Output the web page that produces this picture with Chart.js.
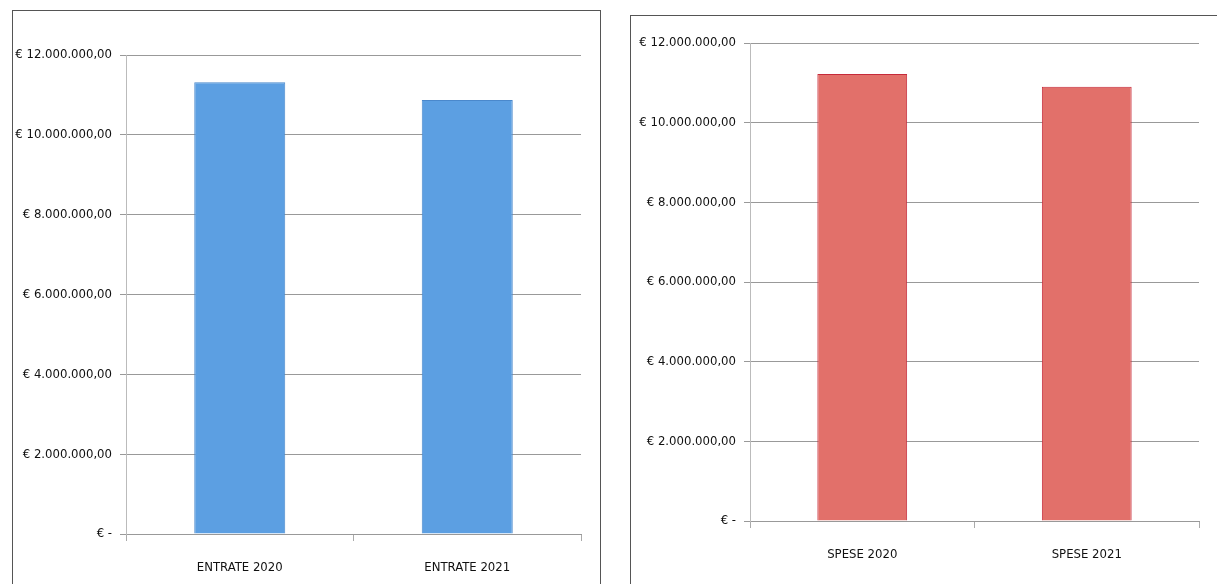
<!DOCTYPE html>
<html>
<head>
<meta charset="utf-8">
<script src="https://cdn.jsdelivr.net/npm/chart.js@4"></script>
<style>
  body { margin: 0; background: #fff; width: 1217px; height: 584px; overflow: hidden; position: relative; }
  .panel { position: absolute; border: 1px solid #555; background: #fff; }
  #p1 { left: 12px; top: 10px; width: 587px; height: 580px; }
  #p2 { left: 630px; top: 15px; width: 590px; height: 580px; }
  canvas { position: absolute; left: 0; top: 0; }
</style>
</head>
<body>
<div class="panel" id="p1"><canvas id="c1" width="587" height="574"></canvas></div>
<div class="panel" id="p2"><canvas id="c2" width="586" height="569"></canvas></div>
<script>
// data
const entrateLabels = ['ENTRATE 2020', 'ENTRATE 2021'];
const entrateValues = [11320000, 10870000];
const speseLabels = ['SPESE 2020', 'SPESE 2021'];
const speseValues = [11220000, 10900000];
const yTicks = [0, 2000000, 4000000, 6000000, 8000000, 10000000, 12000000];

const font = { family: '"DejaVu Sans Condensed", "Liberation Sans Narrow", sans-serif', size: 13 };

function euro(v) {
  if (v === 0) return '€ -';
  return '€ ' + v.toLocaleString('de-DE', { minimumFractionDigits: 2, maximumFractionDigits: 2 });
}

function makeChart(id, labels, values, fill, border, g) {
  new Chart(document.getElementById(id), {
    type: 'bar',
    data: {
      labels: labels,
      datasets: [{
        data: values,
        backgroundColor: fill,
        borderColor: border,
        borderWidth: 1,
        categoryPercentage: 0.4,
        barPercentage: 1
      }]
    },
    options: {
      responsive: false,
      animation: false,
      layout: { padding: { top: g.top, right: g.right, left: 0, bottom: 0 } },
      plugins: { legend: { display: false }, tooltip: { enabled: false } },
      scales: {
        x: {
          afterFit: s => { s.height = g.bottom; },
          grid: { drawOnChartArea: false, color: '#aaa', tickLength: 7, offset: true },
          border: { color: '#999' },
          ticks: { font: font, color: '#111', padding: 19 }
        },
        y: {
          min: 0, max: 12000000,
          afterFit: s => { s.width = g.left; },
          afterBuildTicks: s => { s.ticks = yTicks.map(v => ({ value: v })); },
          grid: { color: '#999', tickLength: 6 },
          border: { color: '#bbb' },
          ticks: { font: font, color: '#111', padding: 8, callback: v => euro(v) }
        }
      }
    }
  });
}

makeChart('c1', entrateLabels, entrateValues, '#5C9FE2', '#4A88CC',
  { top: 44, right: 19, bottom: 51, left: 113 });
makeChart('c2', speseLabels, speseValues, '#E2706A', '#C62A3A',
  { top: 27, right: 18, bottom: 64, left: 119 });
</script>
</body>
</html>
